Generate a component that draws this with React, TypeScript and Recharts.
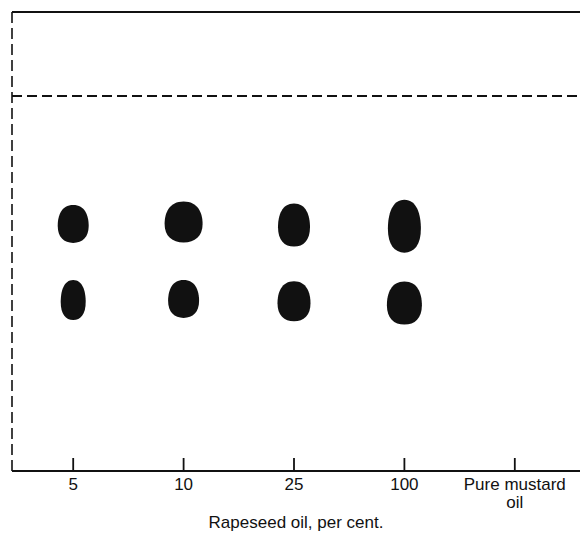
import { ScatterChart, Scatter, XAxis, YAxis, ReferenceLine } from "recharts";

// lanes on the paper, bottom axis labels (one entry per line of text)
const laneLabels = [["5"], ["10"], ["25"], ["100"], ["Pure mustard", "oil"]];
const lanes = laneLabels.map((l) => l.join(" "));

// Rf values of the two spots in each lane (null = no spot)
const upperRf = [0.659, 0.664, 0.656, 0.653, null];
const lowerRf = [0.456, 0.459, 0.453, 0.448, null];

// spot size on the paper, [width, height] in px
const upperSpot = [[31, 38], [38, 41], [32, 43], [33, 53], [0, 0]];
const lowerSpot = [[25, 40], [31, 38], [33, 40], [35, 43], [0, 0]];

const solventFront = 1;
const paperTop = 1.224;
const xTitle = "Rapeseed oil, per cent.";

const INK = "#111";
const FONT = "'Liberation Sans', Arial, sans-serif";

const upperData = lanes.map((lane, i) => ({ lane, rf: upperRf[i], w: upperSpot[i][0], h: upperSpot[i][1] }));
const lowerData = lanes.map((lane, i) => ({ lane, rf: lowerRf[i], w: lowerSpot[i][0], h: lowerSpot[i][1] }));

function Spot(props: any) {
  const { cx, cy, payload } = props;
  if (payload.rf == null || !isFinite(cx) || !isFinite(cy)) return null;
  const rx = payload.w / 2;
  const ry = payload.h / 2;
  // slightly egg shaped blob
  const d = [
    `M${cx},${cy - ry}`,
    `C${cx + 0.75 * rx},${cy - ry} ${cx + rx},${cy - 0.45 * ry} ${cx + rx},${cy + 0.1 * ry}`,
    `C${cx + rx},${cy + 0.7 * ry} ${cx + 0.6 * rx},${cy + ry} ${cx},${cy + ry}`,
    `C${cx - 0.6 * rx},${cy + ry} ${cx - rx},${cy + 0.7 * ry} ${cx - rx},${cy + 0.1 * ry}`,
    `C${cx - rx},${cy - 0.45 * ry} ${cx - 0.75 * rx},${cy - ry} ${cx},${cy - ry}Z`,
  ].join(" ");
  return <path d={d} fill={INK} />;
}

function LaneTick({ x, y, index }: any) {
  const lines = laneLabels[index] || [];
  return (
    <g>
      <line x1={x} x2={x} y1={y - 13} y2={y} stroke={INK} strokeWidth={1.8} />
      <text x={x} y={y + 19} textAnchor="middle" fontSize={17} fill={INK} fontFamily={FONT}>
        {lines.map((l, i) => (
          <tspan key={i} x={x} dy={i === 0 ? 0 : 18}>
            {l}
          </tspan>
        ))}
      </text>
    </g>
  );
}

export default function App() {
  return (
    <div style={{ position: "absolute", left: 0, top: 0, background: "#fff" }}>
      <ScatterChart width={580} height={533} margin={{ top: 12, right: 0, bottom: 0, left: 10 }}>
        <XAxis
          dataKey="lane"
          type="category"
          allowDuplicatedCategory={false}
          height={62}
          padding={{ left: 6, right: 10 }}
          tickSize={0}
          tickMargin={0}
          tickLine={false}
          interval={0}
          tick={<LaneTick />}
          axisLine={{ stroke: INK, strokeWidth: 1.8 }}
          label={{ value: xTitle, position: "insideBottom", offset: 5, fontSize: 17, fill: INK, fontFamily: FONT }}
        />
        <YAxis
          type="number"
          dataKey="rf"
          domain={[0, paperTop]}
          width={2}
          tick={false}
          tickLine={false}
          axisLine={{ stroke: INK, strokeWidth: 1.6, strokeDasharray: "11 5" }}
        />
        <ReferenceLine y={paperTop} stroke={INK} strokeWidth={1.8} />
        <ReferenceLine y={solventFront} stroke={INK} strokeWidth={2} strokeDasharray="10 5" />
        <Scatter data={upperData} shape={<Spot />} isAnimationActive={false} />
        <Scatter data={lowerData} shape={<Spot />} isAnimationActive={false} />
      </ScatterChart>
    </div>
  );
}
